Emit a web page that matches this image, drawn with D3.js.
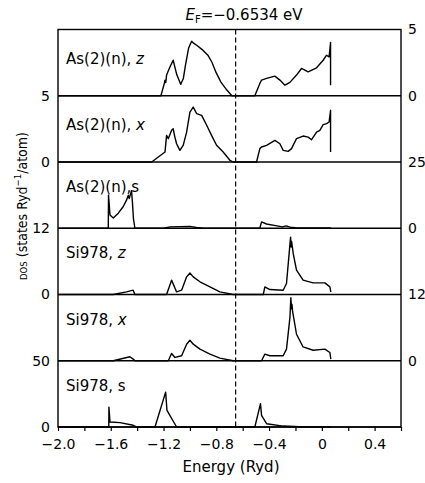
<!DOCTYPE html>
<html>
<head>
<meta charset="utf-8">
<script src="https://cdn.jsdelivr.net/npm/d3@7"></script>
<style>
  body { margin: 0; background: #fff; }
  svg text { font-family: "DejaVu Sans", sans-serif; fill: #000; }
  svg text.narrow { font-family: "Liberation Sans Narrow", "DejaVu Sans Condensed", sans-serif; font-stretch: condensed; }
</style>
</head>
<body>
<svg width="425" height="483"></svg>
<script>
// energy (Ryd) vs DOS
let asZ = [[-2.0,0],[-1.22,0],[-1.195,0.9],[-1.189,1.18],[-1.183,1.0],[-1.177,1.56],[-1.15,2.2],[-1.127,2.68],[-1.1,1.6],[-1.07,0.86],[-1.05,1.3],[-1.034,2.3],[-1.01,3.6],[-0.987,4.11],[-0.97,3.95],[-0.949,3.81],[-0.902,3.44],[-0.864,3.06],[-0.833,2.53],[-0.803,1.78],[-0.765,1.03],[-0.72,0.43],[-0.682,0],
  [-0.508,0],[-0.47,0.93],[-0.457,1.18],[-0.419,1.31],[-0.356,1.48],[-0.318,1.18],[-0.28,0.8],[-0.242,1.01],[-0.192,1.56],[-0.154,2.06],[-0.104,1.81],[-0.04,2.11],[0.01,2.68],[0.036,3.06],[0.055,2.93],[0.066,4.03],[0.066,0.8]];
let asX = [[-2.0,0],[-1.29,0],[-1.189,0.75],[-1.177,2.01],[-1.164,1.76],[-1.139,2.39],[-1.127,2.51],[-1.114,1.88],[-1.101,1.38],[-1.076,0.88],[-1.051,1.26],[-1.025,2.26],[-1.0,3.77],[-0.975,4.15],[-0.949,3.65],[-0.911,3.52],[-0.873,2.77],[-0.836,2.01],[-0.798,1.26],[-0.748,0.75],[-0.697,0.13],[-0.672,0],
  [-0.495,0],[-0.47,1.01],[-0.457,1.13],[-0.419,1.26],[-0.356,1.63],[-0.318,1.38],[-0.293,0.88],[-0.255,0.8],[-0.23,1.01],[-0.192,1.76],[-0.142,1.96],[-0.104,1.88],[-0.078,1.68],[-0.04,2.26],[-0.015,2.39],[0.01,2.82],[0.036,2.9],[0.055,3.02],[0.066,3.9],[0.066,0.75]];
let asS = [[-2.0,0],[-1.619,0],[-1.617,12.5],[-1.606,5.0],[-1.581,3.9],[-1.543,5.7],[-1.505,8.2],[-1.48,10.7],[-1.467,12.5],[-1.46,11.2],[-1.443,14.2],[-1.436,10.0],[-1.428,3.5],[-1.417,0],
  [-1.2,0],[-1.15,0.5],[-1.0,0.7],[-0.95,0.3],[-0.9,0],[-0.47,0],[-0.457,2.4],[-0.42,1.6],[-0.35,1.0],[-0.3,0.5],[-0.27,0.9],[-0.24,0.4],[-0.2,0.2],[0.06,0.1],[0.07,0]];
let siZ = [[-2.0,0],[-1.581,0],[-1.48,0.47],[-1.43,0.78],[-1.417,0],[-1.177,0],[-1.139,2.6],[-1.101,0.47],[-1.063,0.78],[-1.025,3.2],[-1.0,3.9],[-0.975,3.2],[-0.924,2.3],[-0.848,1.38],[-0.773,0.47],[-0.672,0],
  [-0.444,0],[-0.432,1.38],[-0.394,0.9],[-0.293,0.78],[-0.268,2.0],[-0.248,7.4],[-0.237,10.4],[-0.233,8.6],[-0.229,9.6],[-0.217,7.4],[-0.192,4.4],[-0.142,2.6],[-0.066,2.1],[0.023,2.1],[0.061,1.38],[0.068,0.47]];
let siX = [[-2.0,0],[-1.581,0],[-1.455,0.72],[-1.43,0.3],[-1.417,0],[-1.164,0],[-1.139,1.32],[-1.114,0.6],[-1.063,0.9],[-1.025,3.0],[-1.0,3.7],[-0.975,3.0],[-0.924,2.1],[-0.848,1.2],[-0.773,0.48],[-0.672,0],
  [-0.457,0],[-0.432,1.2],[-0.394,0.9],[-0.293,0.9],[-0.268,2.1],[-0.242,7.8],[-0.235,11.4],[-0.23,9.4],[-0.226,10.2],[-0.222,9.0],[-0.192,4.8],[-0.142,2.5],[-0.066,1.9],[0.023,2.1],[0.061,1.5],[0.068,0.3]];
let siS = [[-2.0,0],[-1.615,0],[-1.614,15],[-1.606,3.8],[-1.53,3.3],[-1.43,1.3],[-1.404,0],[-1.265,0],[-1.184,26.3],[-1.174,12.5],[-1.101,0],
  [-0.508,0],[-0.465,17.6],[-0.457,8.8],[-0.419,2.5],[-0.293,0.7],[-0.167,0.2],[0.061,0.1],[0.07,0]];

let panelData = [asZ, asX, asS, siZ, siX, siS];
let panelNames = ['As(2)(n), ', 'As(2)(n), ', 'As(2)(n),', 'Si978, ', 'Si978, ', 'Si978, '];
let panelOrbit = ['z', 'x', 's', 'z', 'x', 's'];
let panelMax = [5, 5, 25, 12, 12, 50];
let panelSide = ['right', 'left', 'right', 'left', 'right', 'left'];
let xTicks = [-2.0, -1.6, -1.2, -0.8, -0.4, 0, 0.4];
let xMinor = d3.range(-2.0, 0.61, 0.2);
let fermi = -0.6534;

let svg = d3.select('svg');
let margin = {left: 58, right: 24, top: 29.5, bottom: 56};
let W = 425, H = 483;
let plotBottom = H - margin.bottom;
let panelH = (plotBottom - margin.top) / panelData.length;

let x = d3.scaleLinear().domain([-2.0, 0.6]).range([margin.left, W - margin.right]);

let line = (y) => d3.line().x(d => x(d[0])).y(d => y(d[1]));

panelData.forEach((data, i) => {
    let top = margin.top + i * panelH;
    let y = d3.scaleLinear().domain([0, panelMax[i]]).range([top + panelH, top]);
    let g = svg.append('g').attr('class', 'panel');

    g.append('path')
        .datum(data)
        .attr('d', line(y))
        .attr('fill', 'none')
        .attr('stroke', '#000')
        .attr('stroke-width', 1.4)
        .attr('stroke-linejoin', 'round');

    let ax = panelSide[i] === 'left'
        ? d3.axisLeft(y).tickSize(0).tickPadding(8)
        : d3.axisRight(y).tickSize(0).tickPadding(7);
    ax.tickValues([0, panelMax[i]]).tickFormat(d3.format('d'));
    let gAx = g.append('g')
        .attr('transform', `translate(${panelSide[i] === 'left' ? x.range()[0] : x.range()[1]},0)`)
        .call(ax);
    gAx.select('.domain').remove();
    gAx.selectAll('text').style('font-size', '14px');

    let lab = g.append('text')
        .attr('x', 66)
        .attr('y', top + (i < 2 ? 34 : 30))
        .style('font-size', '15px');
    lab.append('tspan').text(panelNames[i]);
    lab.append('tspan')
        .text(panelOrbit[i])
        .style('font-style', panelOrbit[i] === 's' ? 'normal' : 'italic');

    // boundary line under each panel
    g.append('line')
        .attr('x1', x.range()[0]).attr('x2', x.range()[1])
        .attr('y1', top + panelH).attr('y2', top + panelH)
        .attr('stroke', '#000').attr('stroke-width', 1.4);
});

// frame
svg.append('rect')
    .attr('x', x.range()[0]).attr('y', margin.top)
    .attr('width', x.range()[1] - x.range()[0])
    .attr('height', plotBottom - margin.top)
    .attr('fill', 'none').attr('stroke', '#000').attr('stroke-width', 1.4);

// Fermi level
svg.append('line')
    .attr('x1', x(fermi)).attr('x2', x(fermi))
    .attr('y1', margin.top).attr('y2', plotBottom)
    .attr('stroke', '#000').attr('stroke-width', 1.2)
    .attr('stroke-dasharray', '5,3');

// energy axis
let xAxis = d3.axisBottom(x).tickValues(xMinor).tickSize(4)
    .tickFormat(d => {
        let hit = xTicks.find(t => Math.abs(t - d) < 1e-6);
        if (hit === undefined) return '';
        return hit === 0 ? '0' : d3.format('.1f')(hit).replace('-', '\u2212');
    });
let gx = svg.append('g').attr('transform', `translate(0,${plotBottom})`).call(xAxis);
gx.select('.domain').remove();
gx.selectAll('line').attr('stroke-width', 1.2);
gx.selectAll('text').style('font-size', '14px').attr('dy', '1.05em');

svg.append('text')
    .attr('x', 231).attr('y', 472)
    .attr('text-anchor', 'middle')
    .style('font-size', '15px')
    .text('Energy  (Ryd)');

// title
let title = svg.append('text')
    .attr('x', 244).attr('y', 20)
    .attr('text-anchor', 'middle')
    .style('font-size', '15px');
title.append('tspan').text('E').style('font-style', 'italic');
title.append('tspan').text('F').attr('dy', 3).style('font-size', '10px');
title.append('tspan').text('=\u22120.6534 eV').attr('dy', -3);

// y title
let yt = svg.append('text')
    .attr('class', 'narrow')
    .attr('transform', 'translate(27,206) rotate(-90)')
    .attr('text-anchor', 'middle')
    .style('font-size', '14px');
yt.append('tspan').text('DOS').style('font-size', '9.5px');
yt.append('tspan').text(' (states  Ryd');
yt.append('tspan').text('\u22121').attr('dy', -6).style('font-size', '9.5px');
yt.append('tspan').text('/atom)').attr('dy', 6);
</script>
</body>
</html>
